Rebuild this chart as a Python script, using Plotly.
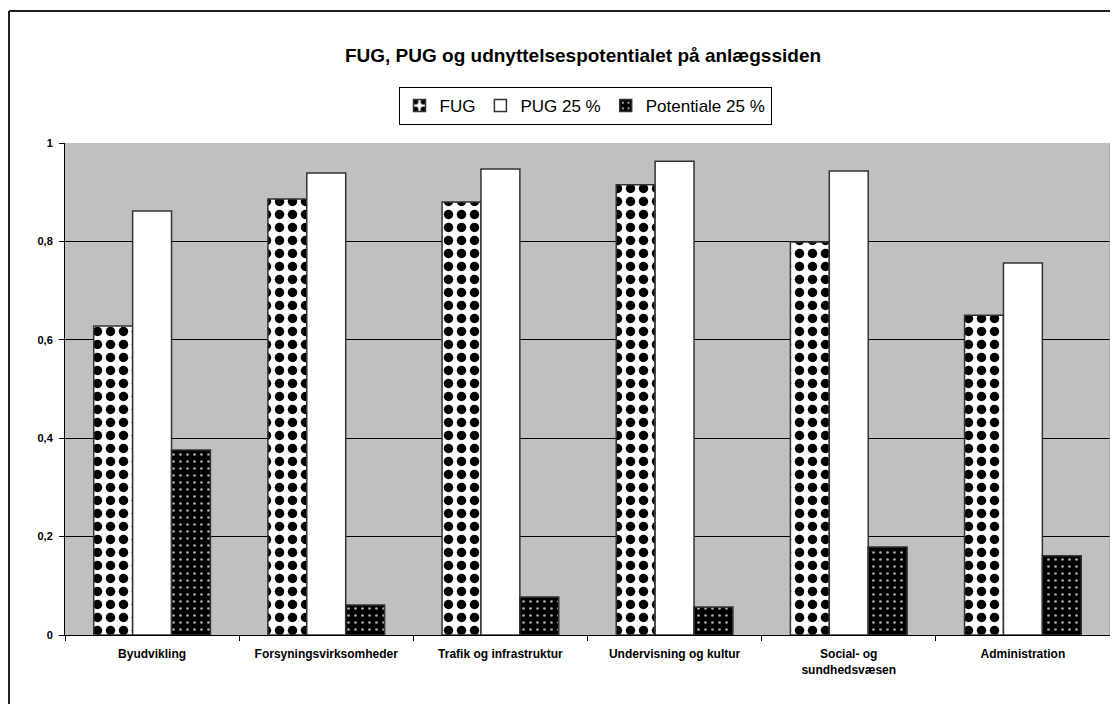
import plotly.graph_objects as go

categories = ["Byudvikling", "Forsyningsvirksomheder", "Trafik og infrastruktur",
              "Undervisning og kultur", "Social- og<br>sundhedsvæsen", "Administration"]
fug = [0.628, 0.886, 0.880, 0.915, 0.799, 0.650]
pug = [0.862, 0.939, 0.947, 0.963, 0.943, 0.756]
potentiale = [0.376, 0.061, 0.077, 0.057, 0.179, 0.161]
y_ticks = [0, 0.2, 0.4, 0.6, 0.8, 1]

line_style = dict(color="#333333", width=1.5)

fig = go.Figure()
fig.add_trace(go.Bar(
    name="FUG", x=categories, y=fug,
    marker=dict(color="white", line=line_style,
                pattern=dict(shape=".", fgcolor="black", bgcolor="white",
                             size=13, solidity=0.42, fillmode="replace")),
))
fig.add_trace(go.Bar(
    name="PUG 25 %", x=categories, y=pug,
    marker=dict(color="white", line=line_style),
))
fig.add_trace(go.Bar(
    name="Potentiale 25 %", x=categories, y=potentiale,
    marker=dict(color="black", line=line_style,
                pattern=dict(shape=".", fgcolor="#aaaaaa", bgcolor="black",
                             size=7, solidity=0.12, fillmode="replace")),
))

# page has an 8px body margin; work in page pixels and convert
OFF = 8
W, H = 1110, 696
L, R, T, B = 65 - OFF, 8, 143 - OFF, 69
pw = W - L - R
ph = H - T - B


def px_x(p):
    return (p - OFF - L) / pw


def px_y(p):
    return (H - B - (p - OFF)) / ph


fig.update_layout(
    width=W, height=H,
    margin=dict(l=L, r=R, t=T, b=B),
    paper_bgcolor="white",
    plot_bgcolor="#c0c0c0",
    separators=",.",
    barmode="group",
    bargap=0.33,
    bargroupgap=0,
    font=dict(family="Liberation Sans, Arial, sans-serif", color="black"),
    title=dict(text="<b>FUG, PUG og udnyttelsespotentialet på anlægssiden</b>",
               x=px_x(583), xanchor="center", xref="paper",
               y=1 - (55 - OFF) / H, yanchor="middle",
               font=dict(size=19, color="black")),
    legend=dict(orientation="h", x=px_x(585), xanchor="center",
                y=px_y(87), yanchor="top",
                bordercolor="black", borderwidth=1,
                font=dict(size=17), bgcolor="white",
                tracegroupgap=0),
    xaxis=dict(showline=True, linecolor="black", linewidth=1,
               ticks="outside", ticklen=5, tickcolor="black",
               tickson="boundaries", ticklabelstandoff=8,
               tickfont=dict(size=12, family="Liberation Sans, Arial", weight="bold")),
    yaxis=dict(range=[0, 1], tickvals=y_ticks,
               showline=True, linecolor="black", linewidth=1,
               showgrid=True, gridcolor="black", gridwidth=1,
               ticks="outside", ticklen=5, tickcolor="black",
               zeroline=False, ticklabelstandoff=4,
               tickfont=dict(size=11, family="Liberation Sans", weight="bold")),
    shapes=[
        dict(type="line", xref="paper", yref="paper",
             x0=px_x(9), x1=px_x(1125), y0=px_y(11), y1=px_y(11),
             line=dict(color="#222222", width=2)),
        dict(type="line", xref="paper", yref="paper",
             x0=px_x(9), x1=px_x(9), y0=px_y(11), y1=px_y(710),
             line=dict(color="#222222", width=2)),
        dict(type="line", xref="paper", yref="paper",
             x0=1, x1=1, y0=0, y1=1,
             line=dict(color="#999999", width=1)),
    ],
)

fig.write_html("out.html")
